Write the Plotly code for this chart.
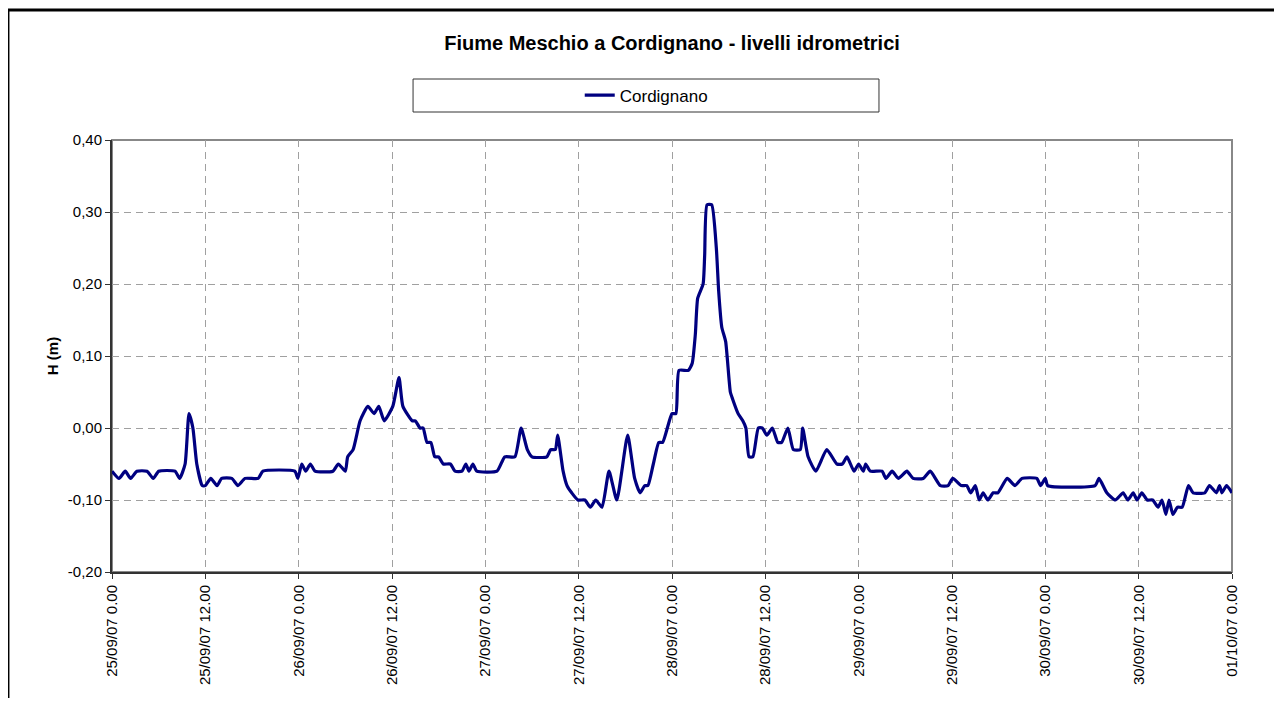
import pandas as pd
import plotly.graph_objects as go

# hours elapsed since 25/09/07 0.00 and water level (m) at each vertex of the line
HOURS = [
    0, 0.9, 1.7, 2.4, 3.2, 4.5, 5.3, 6.0, 8.1, 8.7, 9.4, 9.9, 10.4, 10.9, 11.6, 12.0,
    12.7, 13.5, 14.1, 15.4, 16.2, 17.1, 18.8, 19.4, 23.5, 23.9, 24.4, 24.9, 25.5, 26.1,
    28.4, 29.1, 30.0, 30.3, 31.0, 31.9, 32.9, 33.7, 34.3, 35.0, 36.1, 36.9, 37.4, 38.6,
    39.0, 39.6, 40.0, 40.5, 41.0, 41.5, 42.0, 42.6, 43.5, 44.1, 45.0, 45.5, 45.9, 46.4,
    46.9, 49.5, 50.5, 51.8, 52.6, 53.4, 54.0, 55.9, 56.4, 57.0, 57.3, 58.0, 58.5, 59.1,
    59.9, 60.8, 61.5, 62.2, 63.0, 63.9, 64.9, 66.3, 67.2, 67.9, 68.5, 68.9, 69.6, 70.3,
    70.8, 72.0, 72.5, 72.9, 74.1, 74.6, 75.0, 75.3, 76.0, 76.2, 76.5, 77.1, 77.7, 78.0,
    78.4, 78.9, 79.5, 79.8, 80.5, 81.1, 81.5, 81.9, 82.4, 83.1, 83.6, 84.2, 84.9, 85.6,
    86.1, 86.9, 87.6, 88.5, 88.8, 89.5, 90.5, 91.9, 93.2, 93.9, 94.5, 95.4, 96.0, 96.6,
    96.9, 97.5, 99.0, 99.5, 100.3, 101.1, 102.2, 103.0, 104.3, 105.2, 106.5, 107.5, 108.1,
    109.2, 109.9, 110.4, 111.0, 111.5, 112.0, 112.6, 113.3, 113.9, 115.1, 116.1, 117.0,
    118.9, 119.4, 120.0, 120.3, 126.4, 126.9, 127.9, 129.0, 130.0, 130.6, 131.3, 131.8,
    132.4, 133.1, 133.8, 134.5, 135.0, 135.5, 135.9, 136.4, 137.0, 137.6, 138.4, 139.0,
    140.5, 141.1, 142.0, 142.4, 142.7, 143.3, 144.0,
]
LEVELS = [
    -0.06, -0.07, -0.06, -0.07, -0.06, -0.06, -0.07, -0.06, -0.06, -0.07, -0.05, 0.02, 0.00, -0.05, -0.08, -0.08,
    -0.07, -0.08, -0.07, -0.07, -0.08, -0.07, -0.07, -0.06, -0.06, -0.07, -0.05, -0.06, -0.05, -0.06,
    -0.06, -0.05, -0.06, -0.04, -0.03, 0.01, 0.03, 0.02, 0.03, 0.01, 0.03, 0.07, 0.03, 0.01,
    0.01, 0.00, 0.00, -0.02, -0.02, -0.04, -0.04, -0.05, -0.05, -0.06, -0.06, -0.05, -0.06, -0.05,
    -0.06, -0.06, -0.04, -0.04, 0.00, -0.03, -0.04, -0.04, -0.03, -0.03, -0.01, -0.06, -0.08, -0.09,
    -0.10, -0.10, -0.11, -0.10, -0.11, -0.06, -0.10, -0.01, -0.07, -0.09, -0.08, -0.08, -0.05, -0.02,
    -0.02, 0.02, 0.02, 0.08, 0.08, 0.09, 0.13, 0.18, 0.20, 0.24, 0.31, 0.31, 0.25, 0.19,
    0.14, 0.12, 0.05, 0.04, 0.02, 0.01, 0.00, -0.04, -0.04, 0.00, 0.00, -0.01, 0.00, -0.02,
    -0.02, 0.00, -0.03, -0.03, 0.00, -0.04, -0.06, -0.03, -0.05, -0.05, -0.04, -0.06, -0.05, -0.06,
    -0.05, -0.06, -0.06, -0.07, -0.06, -0.07, -0.06, -0.07, -0.07, -0.06, -0.08, -0.08, -0.07,
    -0.08, -0.08, -0.09, -0.08, -0.10, -0.09, -0.10, -0.09, -0.09, -0.07, -0.08, -0.07,
    -0.07, -0.08, -0.07, -0.08, -0.08, -0.07, -0.09, -0.10, -0.09, -0.10, -0.09, -0.10,
    -0.09, -0.10, -0.10, -0.11, -0.10, -0.12, -0.10, -0.12, -0.11, -0.11, -0.08, -0.09,
    -0.09, -0.08, -0.09, -0.08, -0.09, -0.08, -0.09,
]
START = "2007-09-25 00:00"
END = "2007-10-01 00:00"
Y_TICKS = [-0.2, -0.1, 0.0, 0.1, 0.2, 0.3, 0.4]
Y_LABELS = ["-0,20", "-0,10", "0,00", "0,10", "0,20", "0,30", "0,40"]

FONT = "Arial, Liberation Sans, sans-serif"
LINE_COLOR = "#000080"
GRID = "#a0a0a0"

times = pd.Timestamp(START) + pd.to_timedelta(HOURS, unit="h")

fig = go.Figure()
fig.add_trace(go.Scatter(
    x=times, y=LEVELS,
    mode="lines",
    name="Cordignano",
    line=dict(color=LINE_COLOR, width=3.2, shape="spline", smoothing=0.5),
))

# outer chart frame (cut off at right and bottom in the original)
fig.add_shape(type="rect", xref="paper", yref="paper",
              x0=-0.0929, x1=1.2, y0=-0.5, y1=1.3009,
              line=dict(color="black", width=3))
# plot area border (top/right are grey)
fig.add_shape(type="rect", xref="paper", yref="paper", layer="below",
              x0=0, x1=1, y0=0, y1=1, line=dict(color="#888888", width=2))
# legend box
fig.add_shape(type="rect", xref="paper", yref="paper",
              x0=0.2688, x1=0.6848, y0=1.0648, y1=1.1412,
              line=dict(color="#333333", width=1))

# page has an 8px body margin, so the figure is sized to leave it
fig.update_layout(
    width=1266, height=690,
    margin=dict(l=104, r=42, t=132, b=126),
    plot_bgcolor="white", paper_bgcolor="white",
    separators=",.",
    font=dict(family=FONT, size=13, color="black"),
    title=dict(
        text="<b>Fiume Meschio a Cordignano - livelli idrometrici</b>",
        x=0.5, xref="paper", xanchor="center",
        y=1 - 35 / 690, yanchor="middle",
        font=dict(size=20, family=FONT, color="black"),
    ),
    showlegend=True,
    legend=dict(
        orientation="h", x=0.477, xanchor="center", y=1.103, yanchor="middle",
        bgcolor="rgba(0,0,0,0)", borderwidth=0,
        font=dict(size=17, family=FONT, color="black"),
    ),
    xaxis=dict(
        range=[START, END],
        dtick=12 * 3600 * 1000, tick0=START,
        tickformat="%d/%m/%y %-H.%M",
        tickangle=-90,
        showgrid=True, gridcolor=GRID, griddash="7px,5px", gridwidth=1,
        showline=True, linecolor="#333333", linewidth=2,
        ticks="outside", ticklen=5, tickcolor="#333333",
        tickfont=dict(size=15, family=FONT, color="black"),
        zeroline=False,
    ),
    yaxis=dict(
        range=[-0.2, 0.4],
        tickvals=Y_TICKS, ticktext=Y_LABELS,
        showgrid=True, gridcolor=GRID, griddash="7px,5px", gridwidth=1,
        showline=True, linecolor="#333333", linewidth=2,
        ticks="outside", ticklen=5, tickcolor="#333333",
        tickfont=dict(size=15, family=FONT, color="black"),
        zeroline=False,
        title=dict(text="<b>H (m)</b>", font=dict(size=15, family=FONT, color="black"), standoff=6),
    ),
)

fig.write_html("out.html")
